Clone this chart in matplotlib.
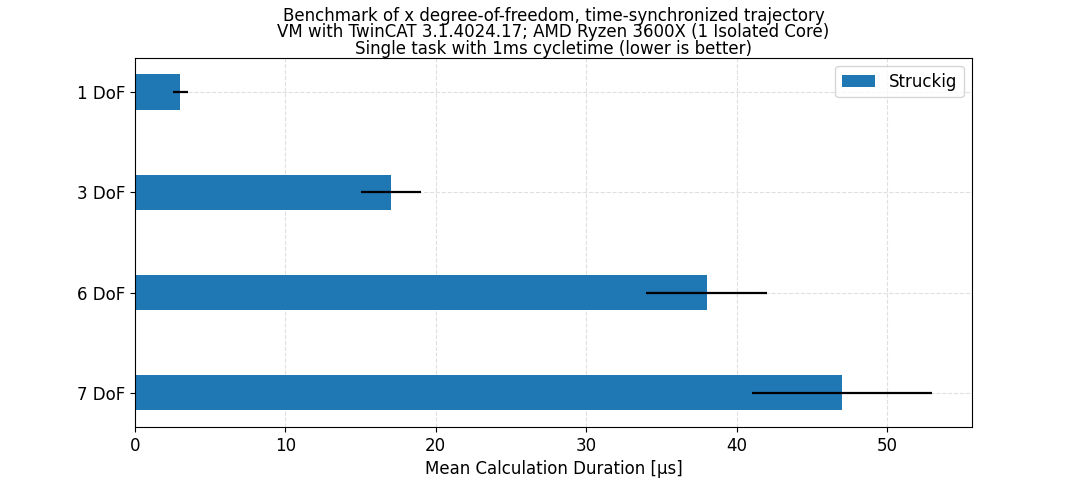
import matplotlib
matplotlib.use("Agg")
import matplotlib.pyplot as plt
import numpy as np

labels = ["1 DoF", "3 DoF", "6 DoF", "7 DoF"]
mean_us = [3, 17, 38, 47]
err_us = [0.5, 2, 4, 6]

plt.rcParams["font.size"] = 12

fig, ax = plt.subplots(figsize=(10.8, 4.8), dpi=100)
y = np.arange(len(labels))
ax.barh(y, mean_us, height=0.35, xerr=err_us, label="Struckig", zorder=2,
        error_kw=dict(ecolor="black", elinewidth=1.6, zorder=3))
ax.set_yticks(y)
ax.set_yticklabels(labels)
ax.invert_yaxis()
ax.grid(True, linestyle="--", alpha=0.4, zorder=0)
ax.set_axisbelow(True)
ax.set_xlabel("Mean Calculation Duration [µs]")
ax.set_title("Benchmark of x degree-of-freedom, time-synchronized trajectory\n"
             "VM with TwinCAT 3.1.4024.17; AMD Ryzen 3600X (1 Isolated Core)\n"
             "Single task with 1ms cycletime (lower is better)",
             fontsize=12, linespacing=0.88, pad=-1)
ax.legend(loc="upper right")
fig.savefig("out.png", dpi=100)
